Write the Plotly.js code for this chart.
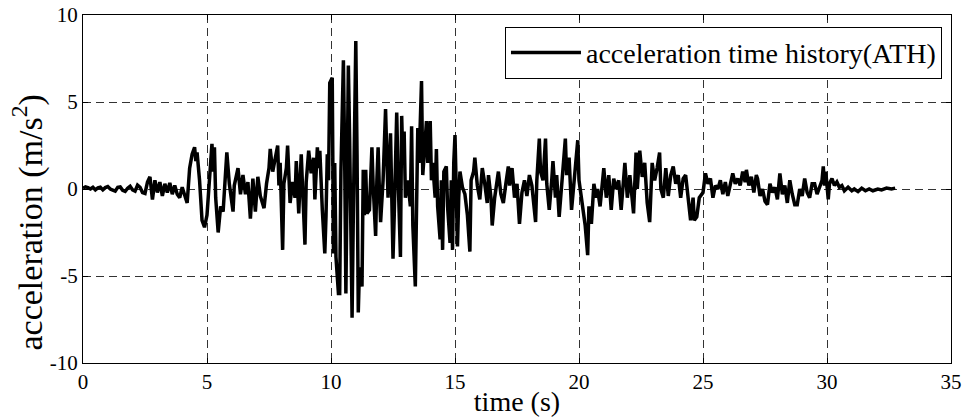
<!DOCTYPE html>
<html>
<head>
<meta charset="utf-8">
<script src="https://cdn.plot.ly/plotly-3.0.1.min.js"></script>
<style>html,body{margin:0;padding:0;background:#fff;}#chart{width:964px;height:417px;}</style>
</head>
<body>
<div id="chart"></div>
<script>
// time (s)
const timeS = [
0,0.1,0.2,0.3,0.4,0.5,0.6,0.7,0.8,0.9,1.0,1.1,1.2,1.3,1.4,1.5,1.6,1.7,1.8,1.9,2.0,2.1,2.2,2.3,2.4,2.5,
2.6,2.7,2.8,2.9,3.0,3.1,3.2,3.3,3.4,3.5,3.6,3.7,3.8,3.9,4.0,4.1,4.2,
4.3,4.4,4.5,4.55,4.6,4.7,4.8,4.9,5.0,5.1,5.2,5.25,5.3,5.35,5.45,5.55,5.65,5.8,5.9,6.05,6.1,6.25,6.35,6.45,6.55,6.65,6.75,6.85,6.95,7.05,7.15,7.3,7.4,7.5,7.55,7.65,7.75,7.85,7.9,7.95,
8.05,8.1,8.2,8.25,8.35,8.45,8.55,8.6,8.7,8.8,8.85,8.95,9.0,9.1,9.2,9.3,9.35,9.45,9.5,9.55,9.65,9.7,9.75,9.8,9.85,9.9,9.95,
10.05,10.1,10.15,10.2,10.3,10.35,10.4,10.45,10.5,10.55,10.6,10.65,10.7,10.75,10.8,10.85,10.9,10.95,11.0,11.05,11.1,11.15,11.25,11.3,11.35,11.4,11.45,11.55,11.65,11.7,11.8,11.85,11.9,11.95,
12.0,12.1,12.2,12.25,12.3,12.4,12.45,12.5,12.55,12.65,12.7,12.8,12.85,12.9,12.95,13.0,13.1,13.2,13.25,13.3,13.4,13.45,13.5,13.55,13.65,13.7,13.8,13.85,13.9,
14.0,14.05,14.1,14.2,14.25,14.3,14.4,14.45,14.5,14.55,14.65,14.7,14.8,14.85,14.9,14.95,15.0,15.05,15.1,15.15,15.2,15.3,15.4,15.5,15.6,15.65,15.75,15.8,15.9,
16.0,16.1,16.2,16.3,16.35,16.45,16.5,16.6,16.7,16.75,16.85,16.95,17.05,17.15,17.2,17.3,17.4,17.5,17.6,17.7,17.8,17.9,
18.0,18.1,18.25,18.3,18.4,18.45,18.55,18.65,18.7,18.8,18.9,18.95,19.05,19.1,19.2,19.3,19.45,19.5,19.6,19.7,19.8,19.95,
20.0,20.1,20.25,20.35,20.4,20.5,20.6,20.7,20.75,20.85,21.0,21.1,21.2,21.3,21.4,21.5,21.6,21.7,21.85,21.95,
22.05,22.2,22.3,22.35,22.45,22.55,22.65,22.75,22.85,22.95,23.05,23.15,23.25,23.3,23.4,23.5,23.6,23.7,23.8,23.9,
24.0,24.1,24.2,24.3,24.4,24.5,24.6,24.65,24.75,24.85,25.0,25.1,25.2,25.3,25.4,25.5,25.6,25.7,25.8,25.9,
26.0,26.1,26.2,26.3,26.4,26.5,26.6,26.7,26.75,26.85,26.95,27.05,27.15,27.2,27.3,27.4,27.5,27.6,27.7,27.8,27.9,
28.0,28.1,28.2,28.3,28.4,28.5,28.6,28.7,28.8,28.9,29.0,29.1,29.2,29.3,29.4,29.5,29.6,29.7,29.8,29.85,29.9,29.95,
30.05,30.1,30.2,30.3,30.4,30.5,30.6,30.7,30.85,31.0,31.1,31.25,31.4,31.55,31.7,31.85,32.05,32.2,32.4,32.6,32.75
];
// acceleration (m/s^2)
const accel = [
0.05,0.12,0.08,0.0,0.1,-0.05,0.06,0.1,-0.05,0.08,0.14,0.0,-0.06,-0.12,0.1,0.12,-0.08,-0.14,0.05,0.16,-0.05,-0.12,0.22,0.1,-0.2,-0.25,
0.4,0.7,-0.6,0.5,-0.2,0.4,-0.4,0.3,-0.2,0.35,-0.3,0.2,-0.3,-0.5,0.1,-0.3,-0.8,
1.2,2.0,2.4,1.6,2.1,0.5,-1.8,-2.2,-1.5,0.5,2.6,1.0,2.4,-0.5,-2.5,-1.0,-1.3,2.1,0.3,-1.3,0.2,1.2,-0.3,0.8,-0.3,0.4,-1.7,0.6,-1.3,0.7,-0.4,-1.1,0.3,1.2,2.3,1.0,1.8,2.5,0.2,1.5,
-3.5,0.3,1.2,2.5,-0.8,0.4,-0.5,1.6,-1.4,2.0,0.2,-3.2,0.4,2.2,0.9,1.8,-0.6,2.4,1.2,2.2,-1.2,-2.5,-3.7,-1.5,2.0,0.5,6.1,
6.4,-3.7,1.5,-3.9,-6.0,-6.0,1.0,3.5,7.4,2.0,-6.0,0.5,7.1,3.0,-4.0,-7.4,-1.5,4.0,8.5,2.0,-7.1,-4.5,-5.6,1.1,-1.5,1.1,-1.4,-1.2,2.4,0.2,-2.7,0.5,2.4,0.0,
-1.9,0.5,4.6,2.0,-0.5,3.2,0.5,-4.0,-1.5,4.4,1.0,-3.9,4.2,1.5,3.3,-0.5,0.5,-1.0,3.6,-2.1,-5.6,-1.0,3.5,1.5,6.2,0.8,2.5,3.9,1.5,
3.9,0.5,1.5,-0.5,2.3,-1.0,-2.9,0.5,-3.5,1.0,1.3,-1.0,-3.1,0.5,-3.5,1.5,3.1,0.0,-3.3,-0.5,1.0,0.1,-0.3,-1.5,-3.6,0.5,1.0,1.8,0.2,
-0.6,1.2,0.3,-0.8,0.8,-0.5,-2.1,-0.5,0.5,1.0,-0.3,-0.8,0.3,1.3,0.2,1.2,-0.5,0.3,-2.0,-0.2,0.5,-0.4,
0.8,0.2,-1.9,0.5,2.9,1.0,0.5,2.9,0.3,-1.2,0.5,1.6,-0.5,0.8,-1.6,0.2,2.9,0.8,1.8,-1.2,0.6,2.8,
0.5,-0.5,-2.1,-3.8,-1.0,-2.0,0.3,-0.5,0.0,-1.0,1.2,-0.5,0.8,-1.2,0.6,0.0,0.5,-1.2,1.5,-0.5,
0.8,-1.4,2.1,0.0,2.2,0.7,1.5,-0.8,-1.9,1.5,0.5,1.2,2.1,0.0,-0.5,1.2,-0.4,0.8,1.3,0.3,
0.8,-0.5,0.6,0.8,-0.5,-1.8,-0.5,-1.8,-1.6,-0.5,-0.2,0.9,0.3,0.6,-0.5,0.2,0.0,0.5,-0.3,0.4,
-0.4,0.2,0.9,0.3,0.6,0.2,1.0,0.4,1.1,0.2,0.7,-0.2,0.8,0.6,-0.4,0.0,-0.7,-0.9,0.3,-0.2,0.1,
-0.6,0.9,-0.3,0.2,-0.8,0.5,-0.3,-0.9,-0.9,0.0,-0.4,0.6,-0.2,-0.5,0.3,0.3,-0.3,0.1,0.5,1.3,0.2,1.0,
-0.6,0.3,0.6,0.2,0.4,0.1,0.2,-0.1,0.1,-0.1,0.0,-0.15,0.05,-0.1,0.0,-0.1,0.0,-0.05,0.05,0.0,0.05
];
const seriesName = 'acceleration time history(ATH)';
const xTicks = [0,5,10,15,20,25,30,35];
const yTicks = [-10,-5,0,5,10];
const xTitle = 'time (s)';
const yTitle = 'acceleration (m/s<sup>2</sup>)';

const serif = '"Liberation Serif", "Times New Roman", serif';
const trace = {
  x: timeS, y: accel, type: 'scatter', mode: 'lines', name: seriesName,
  line: {color: '#000', width: 3.5}
};
const axisCommon = {
  showline: true, linecolor: '#000', linewidth: 1, mirror: 'ticks',
  ticks: 'inside', ticklen: 5, tickcolor: '#000',
  showgrid: true, gridcolor: '#000', gridwidth: 0.8, griddash: '8px,5px',
  zeroline: false, tickfont: {family: serif, size: 21, color: '#000'}
};
const layout = {
  width: 964, height: 417,
  margin: {l: 83, r: 13, t: 15, b: 54},
  paper_bgcolor: '#fff', plot_bgcolor: '#fff',
  font: {family: serif, color: '#000'},
  showlegend: true,
  legend: {x: 0.9896, xanchor: 'right', y: 0.966, yanchor: 'top',
    bgcolor: '#fff', bordercolor: '#000', borderwidth: 1,
    font: {family: serif, size: 28, color: '#000'}, itemwidth: 70},
  xaxis: Object.assign({}, axisCommon, {
    range: [0, 35], tickvals: xTicks, ticktext: xTicks.map(String),
    title: {text: xTitle, font: {family: serif, size: 28, color: '#000'}, standoff: 0}
  }),
  yaxis: Object.assign({}, axisCommon, {
    range: [-10, 10], tickvals: yTicks, ticktext: yTicks.map(String)
  }),
  annotations: [{
    text: yTitle, xref: 'paper', yref: 'paper', x: -0.064, y: 0.405,
    xanchor: 'center', yanchor: 'middle', textangle: -90, showarrow: false,
    font: {family: serif, size: 34, color: '#000'}
  }]
};
Plotly.newPlot('chart', [trace], layout, {displayModeBar: false, staticPlot: true});
</script>
</body>
</html>
